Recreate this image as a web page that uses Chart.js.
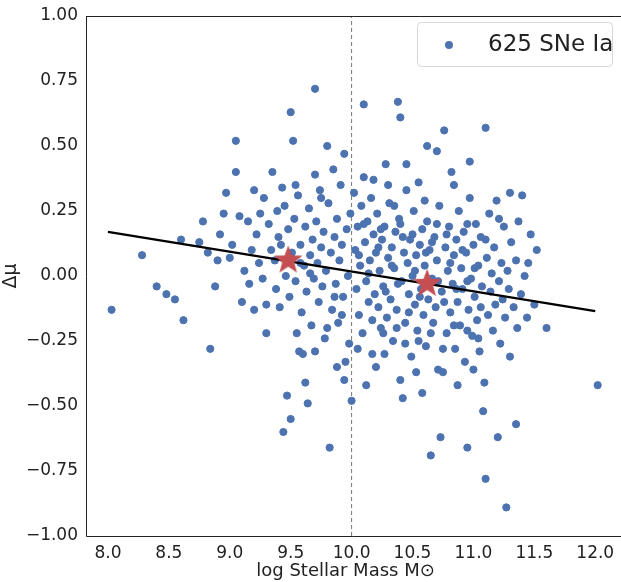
<!DOCTYPE html>
<html>
<head>
<meta charset="utf-8">
<script src="https://cdn.jsdelivr.net/npm/chart.js@4"></script>
<style>
  html, body { margin: 0; padding: 0; background: #fff; }
  #wrap { width: 621px; height: 582px; }
</style>
</head>
<body>
<div id="wrap"><canvas id="massChart" width="621" height="582"></canvas></div>
<script>
// points: [log M, delta mu]
const sne = [
  [8.03,-0.13],[8.28,0.08],[8.40,-0.04],[8.48,-0.07],[8.55,-0.09],[8.60,0.14],[8.62,-0.17],[8.78,0.21],
  [8.75,0.13],[8.84,-0.28],[8.88,-0.04],[8.92,0.16],[8.95,0.24],[8.97,0.32],[9.00,0.07],[9.05,0.40],
  [9.05,0.52],[9.10,-0.10],[9.15,0.21],[9.20,-0.13],[9.20,0.33],[9.25,0.24],[9.30,-0.22],[9.30,-0.11],
  [9.35,0.40],[9.37,0.06],[9.40,0.15],[9.42,0.12],[9.50,0.63],[9.52,0.52],[9.45,0.27],[9.55,-0.22],
  [9.57,-0.29],[9.60,-0.30],[9.47,-0.46],[9.50,-0.55],[9.44,-0.60],[9.64,-0.49],[9.70,0.72],[9.70,0.39],
  [9.80,0.50],[9.82,-0.66],[9.95,-0.33],[10.00,-0.48],[10.10,0.66],[10.38,0.67],[10.40,0.61],[10.76,0.56],
  [10.10,0.38],[10.28,0.43],[10.55,0.36],[11.10,0.57],[10.70,0.48],[11.30,0.32],[11.40,0.31],[11.35,0.06],
  [11.45,0.05],[11.60,-0.20],[12.02,-0.42],[11.35,-0.57],[11.20,-0.62],[10.73,-0.62],[11.27,-0.89],[10.95,-0.66],
  [11.10,-0.78],[10.75,-0.37],[10.42,-0.47],[11.08,-0.52],[10.65,-0.69],[8.82,0.09],[8.90,0.06],[9.02,0.12],
  [9.08,0.23],[9.12,0.02],[9.16,-0.03],[9.18,0.10],[9.22,0.16],[9.24,0.05],[9.27,-0.01],[9.28,0.30],
  [9.32,0.20],[9.34,0.10],[9.38,-0.05],[9.39,0.25],[9.41,-0.12],[9.43,0.34],[9.46,0.00],[9.48,0.18],
  [9.49,-0.08],[9.51,0.09],[9.53,0.22],[9.54,-0.02],[9.56,0.31],[9.58,0.12],[9.59,-0.14],[9.61,0.04],
  [9.62,0.19],[9.63,-0.06],[9.65,0.26],[9.66,0.08],[9.67,-0.19],[9.68,0.14],[9.69,-0.01],[9.71,0.21],
  [9.72,0.05],[9.73,-0.10],[9.74,0.33],[9.75,0.11],[9.76,-0.04],[9.77,0.17],[9.78,-0.24],[9.79,0.02],
  [9.81,0.28],[9.83,0.09],[9.84,-0.13],[9.85,0.41],[9.86,0.15],[9.87,-0.03],[9.88,0.22],[9.89,-0.18],
  [9.90,0.06],[9.91,0.35],[9.92,0.12],[9.93,-0.08],[9.94,0.47],[9.96,0.18],[9.97,0.00],[9.98,-0.26],
  [9.99,0.24],[10.02,0.32],[10.03,0.10],[10.04,-0.05],[10.05,0.19],[10.06,-0.15],[10.07,0.04],[10.08,0.27],
  [10.09,-0.22],[10.11,0.13],[10.12,-0.02],[10.13,0.21],[10.14,-0.10],[10.15,0.06],[10.16,0.30],[10.17,-0.30],
  [10.18,0.16],[10.19,-0.07],[10.20,0.09],[10.21,0.24],[10.22,-0.12],[10.23,0.02],[10.24,-0.20],[10.25,0.14],
  [10.26,-0.04],[10.27,0.19],[10.29,-0.16],[10.30,0.07],[10.31,0.28],[10.32,-0.09],[10.33,0.11],[10.34,-0.25],
  [10.35,0.03],[10.36,0.17],[10.37,-0.13],[10.39,0.22],[10.41,-0.02],[10.43,0.09],[10.44,-0.18],[10.45,0.33],
  [10.46,0.05],[10.47,-0.07],[10.48,0.14],[10.49,-0.31],[10.50,0.00],[10.51,0.25],[10.52,-0.11],[10.53,0.08],
  [10.54,-0.21],[10.56,0.12],[10.57,-0.05],[10.58,0.18],[10.59,-0.15],[10.60,0.04],[10.61,-0.27],[10.62,0.21],
  [10.63,-0.09],[10.64,0.10],[10.66,-0.01],[10.67,-0.18],[10.68,0.15],[10.69,-0.12],[10.70,0.06],[10.71,-0.36],
  [10.72,0.27],[10.74,-0.06],[10.77,0.11],[10.78,-0.22],[10.79,0.02],[10.80,0.19],[10.81,-0.14],[10.82,0.40],
  [10.83,-0.03],[10.84,0.08],[10.85,-0.28],[10.86,0.14],[10.87,-0.10],[10.88,0.25],[10.89,-0.19],[10.90,0.03],
  [10.91,-0.05],[10.92,0.17],[10.93,-0.33],[10.94,0.09],[10.96,-0.13],[10.97,0.30],[10.98,-0.01],[10.99,-0.23],
  [11.00,0.12],[11.01,-0.08],[11.02,0.20],[11.03,-0.17],[11.04,0.04],[11.05,-0.29],[11.06,0.15],[11.07,-0.04],
  [11.09,-0.41],[11.11,0.07],[11.12,-0.15],[11.13,0.24],[11.14,-0.06],[11.15,0.01],[11.16,-0.21],[11.17,0.11],
  [11.18,-0.11],[11.19,0.29],[11.21,-0.02],[11.22,-0.26],[11.23,0.05],[11.24,-0.09],[11.25,0.19],[11.26,-0.16],
  [11.28,0.02],[11.29,-0.05],[11.31,0.13],[11.33,-0.12],[11.37,0.21],[11.39,-0.07],[11.42,0.00],[11.47,0.16],
  [11.50,-0.11],[11.44,-0.16],[11.52,0.10],[11.36,-0.20],[11.30,-0.31],[11.21,0.22],[10.97,0.44],[10.84,0.35],
  [10.60,0.29],[10.45,0.43],[10.30,0.35],[10.18,0.37],[10.35,0.27],[10.62,0.50],[10.53,-0.37],[10.40,-0.40],
  [10.27,-0.30],[10.58,-0.45],[10.87,-0.42],[11.00,-0.36],[10.20,-0.35],[10.05,-0.28],[9.88,-0.35],[9.70,-0.29],
  [9.62,-0.41],[9.94,-0.40],[9.80,-0.20],[10.12,-0.42],[9.58,0.05],[9.66,0.01],[9.75,0.30],[9.54,0.35],
  [10.06,0.08],[10.14,0.01],[10.22,0.11],[10.28,-0.06],[10.33,0.04],[10.38,-0.03],[10.42,0.15],[10.47,-0.14],
  [10.52,0.02],[10.56,-0.08],[10.61,0.09],[10.66,0.13],[10.71,-0.02],[10.76,-0.10],[10.81,0.05],[10.86,-0.05],
  [10.91,0.10],[10.95,-0.02],[11.01,0.03],[11.06,-0.12],[10.17,-0.17],[10.26,-0.22],[10.37,-0.20],[10.44,-0.26],
  [10.55,-0.25],[10.65,-0.22],[10.75,-0.28],[10.84,-0.19],[10.95,-0.21],[11.04,-0.24],[10.10,0.20],[10.24,0.18],
  [10.40,0.20],[10.50,0.16],[10.70,0.20],[10.78,0.16],[10.95,0.20],[11.10,0.14],[9.86,-0.08],[9.92,-0.15]
];

const fitLine = [[8.0,0.17],[12.0,-0.135]];
const binMeans = [[9.48,0.06],[10.62,-0.03]];
const massCut = 10.0;
const xTicks = [8.0,8.5,9.0,9.5,10.0,10.5,11.0,11.5,12.0];
const yTicks = [-1.0,-0.75,-0.5,-0.25,0.0,0.25,0.5,0.75,1.0];
const legendLabel = '625 SNe Ia';

const pts = a => a.map(p => ({x: p[0], y: p[1]}));
const blue = '#4c72b0';
const red = '#c44e52';

// filled five-point star used as point style
function makeStar(r, color) {
  const cv = document.createElement('canvas');
  cv.width = cv.height = r * 2 + 2;
  const c = cv.getContext('2d');
  c.fillStyle = color;
  c.beginPath();
  for (let i = 0; i < 10; i++) {
    const rad = i % 2 === 0 ? r : r * 0.42;
    const a = -Math.PI / 2 + i * Math.PI / 5;
    c.lineTo(r + 1 + rad * Math.cos(a), r + 1 + rad * Math.sin(a));
  }
  c.closePath();
  c.fill();
  return cv;
}

const legendBox = {
  id: 'legendBox',
  afterDraw(chart) {
    const c = chart.ctx;
    c.save();
    c.strokeStyle = '#d6d6d6';
    c.lineWidth = 1;
    c.fillStyle = 'rgba(255,255,255,0.8)';
    c.beginPath();
    c.roundRect(417.5, 22.5, 195, 44, 4);
    c.fill(); c.stroke();
    c.fillStyle = blue;
    c.beginPath(); c.arc(449, 45, 4, 0, Math.PI * 2); c.fill();
    c.fillStyle = '#222';
    c.font = '23px "DejaVu Sans"';
    c.textBaseline = 'middle';
    c.fillText(legendLabel, 488, 45);
    c.restore();
  }
};

const frame = {
  id: 'frame',
  afterDraw(chart) {
    const a = chart.chartArea, c = chart.ctx;
    c.save();
    c.strokeStyle = '#222';
    c.lineWidth = 1;
    c.beginPath();
    c.moveTo(a.left + 0.5, a.top + 0.5); c.lineTo(621, a.top + 0.5);
    c.moveTo(a.left + 0.5, a.top); c.lineTo(a.left + 0.5, a.bottom + 0.5); c.lineTo(621, a.bottom + 0.5);
    c.stroke();
    c.restore();
  }
};

new Chart(document.getElementById('massChart'), {
  type: 'scatter',
  data: {
    datasets: [
      { type: 'line', data: [{x: massCut, y: -1}, {x: massCut, y: 1}], borderColor: '#777', borderWidth: 1,
        borderDash: [4, 3], pointRadius: 0, order: 4 },
      { label: legendLabel, data: pts(sne), backgroundColor: blue, borderColor: blue, pointRadius: 3.6, order: 3 },
      { type: 'line', data: pts(fitLine), borderColor: '#000', borderWidth: 2.2, pointRadius: 0, order: 2 },
      { data: pts(binMeans), pointStyle: makeStar(15, red), pointRadius: 15, order: 1 }
    ]
  },
  options: {
    responsive: false,
    animation: false,
    layout: { padding: { top: 14 } },
    plugins: { legend: { display: false }, tooltip: { enabled: false } },
    scales: {
      x: {
        type: 'linear', min: 7.82, max: 12.08,
        afterBuildTicks: s => { s.ticks = xTicks.map(v => ({value: v})); },
        afterFit: s => { s.height = 46; },
        grid: { display: false, drawTicks: true, tickLength: 5, tickColor: '#222' },
        border: { display: false },
        ticks: { color: '#222', font: { size: 17, family: 'DejaVu Sans' }, padding: 2,
          callback: v => v.toFixed(1) },
        title: { display: true, text: 'log Stellar Mass M\u2299', color: '#222',
          font: { size: 18, family: 'DejaVu Sans' }, padding: 0 }
      },
      y: {
        type: 'linear', min: -1, max: 1,
        afterBuildTicks: s => { s.ticks = yTicks.map(v => ({value: v})); },
        afterFit: s => { s.width = 86; },
        grid: { display: false, drawTicks: true, tickLength: 5, tickColor: '#222' },
        border: { display: false },
        ticks: { color: '#222', font: { size: 17, family: 'DejaVu Sans' }, padding: 3,
          callback: v => (v < 0 ? '\u2212' : '') + Math.abs(v).toFixed(2) },
        title: { display: true, text: '\u0394\u03bc', color: '#222',
          font: { size: 19, family: 'DejaVu Sans' }, padding: 0 }
      }
    }
  },
  plugins: [legendBox, frame]
});
</script>
</body>
</html>
